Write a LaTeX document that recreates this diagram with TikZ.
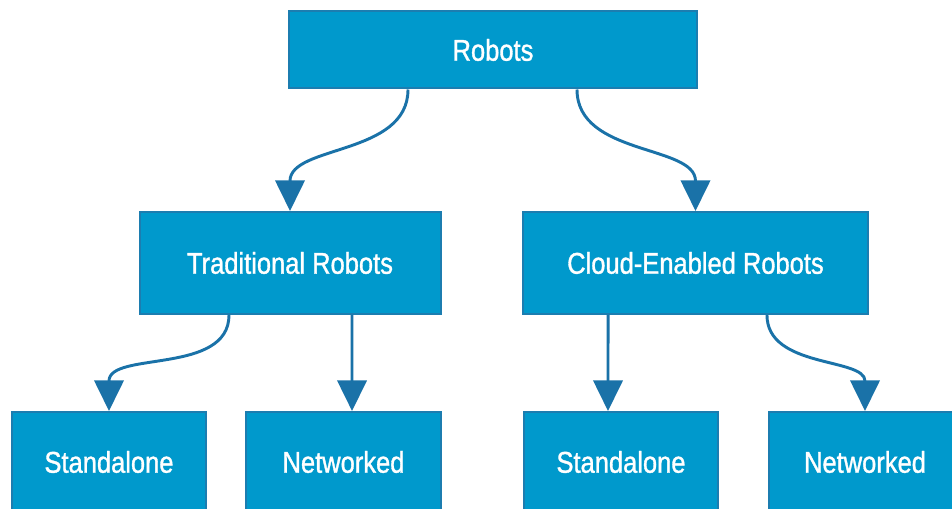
\documentclass[tikz,border=0pt]{standalone}
\usepackage{fontspec}
\setmainfont[FakeStretch=0.85, FakeBold=1.1]{Liberation Sans}
\usetikzlibrary{arrows.meta}

\definecolor{boxfill}{HTML}{0099CC}
\definecolor{boxline}{HTML}{1C7DB0}
\definecolor{arrowline}{HTML}{1A72A8}

\tikzset{
  catbox/.style={draw=boxline, line width=1.5pt, fill=boxfill, text=white,
    font=\fontsize{22.5}{26}\selectfont, inner sep=0pt, minimum height=76.5pt},
  leafbox/.style={catbox, minimum width=145.5pt, minimum height=75pt},
  link/.style={draw=arrowline, line width=2.2pt,
    -{Triangle[width=22pt,length=23pt]}}
}

\begin{document}
\begin{tikzpicture}[x=0.75pt, y=-0.75pt]
  \useasboundingbox (0,0) rectangle (952,509);
  \clip (0,0) rectangle (952,509);

  % top level
  \node[catbox, minimum width=306pt, minimum height=57.75pt] (robots) at (493,50) {Robots};

  % second level
  \node[catbox, minimum width=225.75pt] (trad) at (290,263) {Traditional Robots};
  \node[catbox, minimum width=258.75pt] (cloud) at (695.5,263) {Cloud-Enabled Robots};

  % leaves
  \node[leafbox] (tradalone) at (109,462) {Standalone};
  \node[leafbox, minimum width=146.25pt] (tradnet) at (343.5,462) {Networked};
  \node[leafbox] (cloudalone) at (621,462) {Standalone};
  \node[leafbox, minimum width=144pt] (cloudnet) at (865,462) {Networked};

  % connectors
  \draw[link] ([xshift=-63.75pt]robots.south) to[out=-90, in=90] (trad.north);
  \draw[link] ([xshift=63pt]robots.south) to[out=-90, in=90] (cloud.north);

  \draw[link] ([xshift=-45.75pt]trad.south) to[out=-90, in=90] (tradalone.north);
  \draw[link] ([xshift=46.5pt]trad.south) -- ([xshift=6.4pt]tradnet.north);

  \draw[link] ([xshift=-65.6pt]cloud.south) -- ([xshift=-9.75pt]cloudalone.north);
  \draw[link] ([xshift=53.6pt]cloud.south) to[out=-90, in=90] (cloudnet.north);
\end{tikzpicture}
\end{document}
